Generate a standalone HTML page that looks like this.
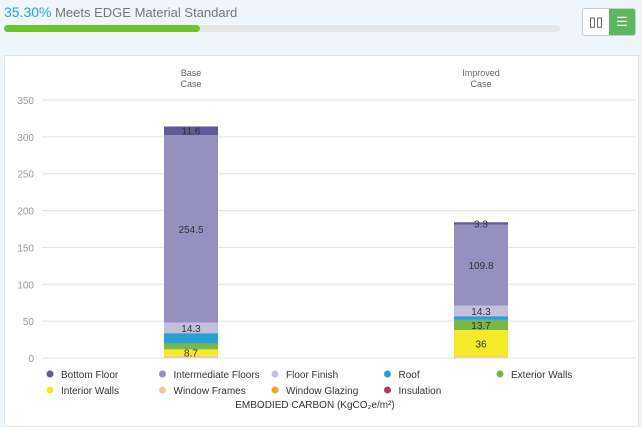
<!DOCTYPE html>
<html><head><meta charset="utf-8"><style>
body{margin:0;width:642px;height:423px;background:#eef5fb;font-family:"Liberation Sans",sans-serif;overflow:hidden;position:relative}
.t{position:absolute;left:4px;top:4px;font-size:13px;color:#777}
.t b{color:#2aa3c9;font-weight:normal;font-size:14px}
.bar{position:absolute;left:4px;top:25px;width:556px;height:7px;background:#e4e6e8;border-radius:4px}
.bar div{width:196px;height:7px;background:#6cc52a;border-radius:4px}
.tog{position:absolute;left:582px;top:8px;width:52px;height:26px;border:1px solid #ccc;border-radius:3px;background:#fff;overflow:hidden}
.tog span{position:absolute;top:0;height:26px;width:26px;text-align:center;line-height:26px;font-size:13px}
.panel{position:absolute;left:4px;top:55px;width:633px;height:370px;background:#fff;border:1px solid #dde4ea}
</style></head><body>
<div class="t"><b>35.30%</b> Meets EDGE Material Standard</div>
<div class="bar"><div></div></div>
<div class="tog"><span style="left:0;color:#333">▯▯</span><span style="left:26px;background:#5cb85c;color:#fff">☰</span></div>
<div class="panel"></div>
<svg id="c" width="642" height="423" style="position:absolute;left:0;top:0"></svg>
<script>
const categories=["Base\nCase","Improved\nCase"];
const seriesNames=["Bottom Floor","Intermediate Floors","Floor Finish","Roof","Exterior Walls","Interior Walls","Window Frames","Window Glazing","Insulation"];
const colors=["#5f5a96","#9590c0","#c4c0dc","#2a9fd6","#7ab648","#f5ea2a","#f7c8a0","#f5a623","#b03a5a"];
const stackOrder=[6,5,4,3,2,1,0];
const baseValues=[11.6,254.5,14.3,14,8,8.7,3,0,0];
const improvedValues=[3.3,109.8,14.3,5,13.7,36,2,0,0];
const labeled=[0,1,2,4,5];
const yTicks=[0,50,100,150,200,250,300,350];
const svg=document.getElementById('c');const NS="http://www.w3.org/2000/svg";
const y=v=>358-v*(258/350);const xc=[191,481];const bw=54;
function mk(t,a,p){const e=document.createElementNS(NS,t);for(const k in a)e.setAttribute(k,a[k]);(p||svg).appendChild(e);return e;}
yTicks.forEach(v=>{
 const l=mk('line',{x1:42,x2:636,y1:y(v),y2:y(v),stroke:'#e0e0e0'});
 
 const t=mk('text',{x:34,y:y(v)+4,'text-anchor':'end','font-size':10,fill:'#999'});t.textContent=v;
 
});
[baseValues,improvedValues].forEach((vals,i)=>{
 const lines=categories[i].split('\n');
 lines.forEach((s,j)=>{const t=mk('text',{x:xc[i],y:76+j*11,'text-anchor':'middle','font-size':9,fill:'#666'});t.textContent=s;
  });
 let acc=0;
 stackOrder.forEach(k=>{const v=vals[k];if(!v)return;
  const r=mk('rect',{x:xc[i]-bw/2,y:y(acc+v),width:bw,height:y(acc)-y(acc+v),fill:colors[k]});
  
  
  if(labeled.includes(k)&&!(i==0&&k==4)){const t=mk('text',{x:xc[i],y:(y(acc)+y(acc+v))/2+4,'text-anchor':'middle','font-size':10,fill:'#333'});t.textContent=v;
   }
  acc+=v;});
});
seriesNames.forEach((n,i)=>{const col=i%5,row=Math.floor(i/5);const x=50+col*112.5,yy=374+row*16;
 const g=mk('g',{});
 mk('circle',{cx:x,cy:yy,r:3.5,fill:colors[i]},g);
 const t=mk('text',{x:x+11,y:yy+4,'font-size':10,fill:'#333'},g);t.textContent=n;});
const tt=mk('text',{x:315,y:408,'text-anchor':'middle','font-size':10,fill:'#333'});tt.textContent="EMBODIED CARBON (KgCO₂e/m²)";

</script>
</body></html>
